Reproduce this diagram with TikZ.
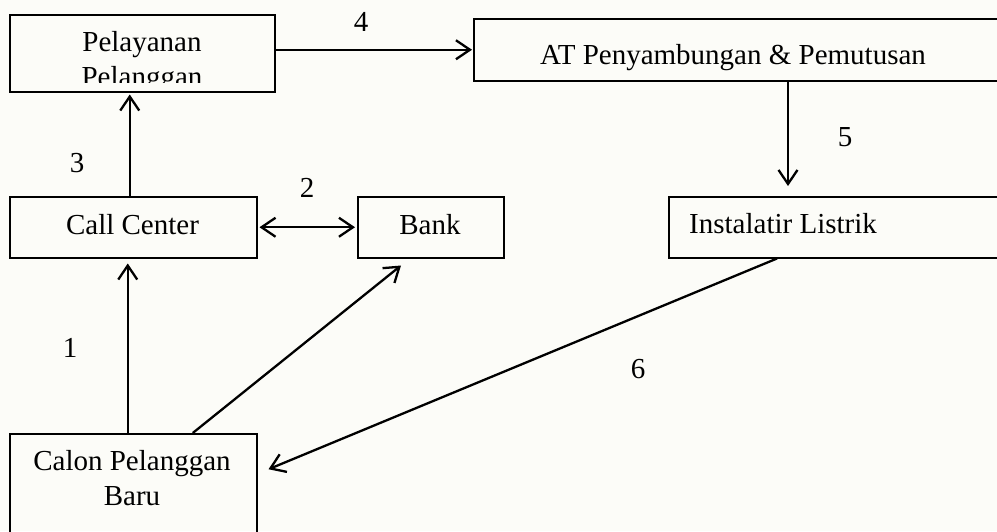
\documentclass[tikz,border=0pt]{standalone}
\usepackage{fontspec}
\setmainfont{Liberation Serif}
\usetikzlibrary{arrows.meta}
\definecolor{bgc}{RGB}{252,252,248}
\begin{document}
\begin{tikzpicture}[x=1pt,y=-1pt,
  box/.style={draw, line width=1.5pt, inner sep=0pt, anchor=north west},
  txt/.style={inner sep=0pt, font=\fontsize{29}{35}\selectfont},
  tip/.tip={Straight Barb[length=14pt,width=19pt,line width=2.3pt]},
  arr/.style={line width=2.3pt, -tip},
  darr/.style={line width=2.3pt, tip-tip}]
\clip (0,0) rectangle (997,531);
\fill[bgc] (0,0) rectangle (997,531);
% boxes
\node[box, minimum width=265pt, minimum height=77pt] (pel) at (9,14) {};
\node[box, minimum width=540pt, minimum height=62pt] (at) at (473,18) {};
\node[box, minimum width=247pt, minimum height=61pt] (call) at (9,196) {};
\node[box, minimum width=146pt, minimum height=61pt] (bank) at (357,196) {};
\node[box, minimum width=345pt, minimum height=61pt] (inst) at (668,196) {};
\node[box, minimum width=247pt, minimum height=115pt] (calon) at (9,433) {};
% texts
\node[txt, anchor=base] (pelt1) at (142,51) {Pelayanan};
\begin{scope}
\clip (10,15) rectangle (273,82);
\node[txt, anchor=base] (pelt2) at (142,86) {Pelanggan};
\end{scope}
\node[txt, anchor=base] (att) at (733,64) {AT Penyambungan \& Pemutusan};
\node[txt, anchor=base] (callt) at (132.5,234) {Call Center};
\node[txt, anchor=base] (bankt) at (430,234) {Bank};
\node[txt, anchor=base west] (instt) at (689,233) {Instalatir Listrik};
\node[txt, anchor=base] (calont1) at (132,470) {Calon Pelanggan};
\node[txt, anchor=base] (calont2) at (132,505) {Baru};
% labels
\node[txt] (l1) at (70,348) {1};
\node[txt] (l2) at (307,188) {2};
\node[txt] (l3) at (77,163) {3};
\node[txt] (l4) at (361,22) {4};
\node[txt] (l5) at (845,137) {5};
\node[txt] (l6) at (638,369) {6};
% connectors
\coordinate (c1) at ([xshift=-5.5pt]calon.north);
\coordinate (c3) at ([xshift=-3.5pt]call.north);
\coordinate (c5) at (at.south -| 788,0);
\draw[arr, shorten >=5pt] (c1) -- (c1 |- call.south);
\draw[arr, shorten >=2pt] (c3) -- (c3 |- pel.south);
\draw[darr, shorten <=2pt, shorten >=2pt] (call.east) -- (bank.west);
\draw[arr, shorten >=1pt] (pel.east |- at.west) -- (at.west);
\draw[arr, shorten >=10pt] (c5) -- (c5 |- inst.north);
\draw[arr] ([xshift=59.5pt]calon.north) -- ([shift={(44,7)}]bank.south west);
\draw[arr] ([xshift=109pt]inst.south west) -- ([shift={(11,-22)}]calon.east);
\end{tikzpicture}
\end{document}
